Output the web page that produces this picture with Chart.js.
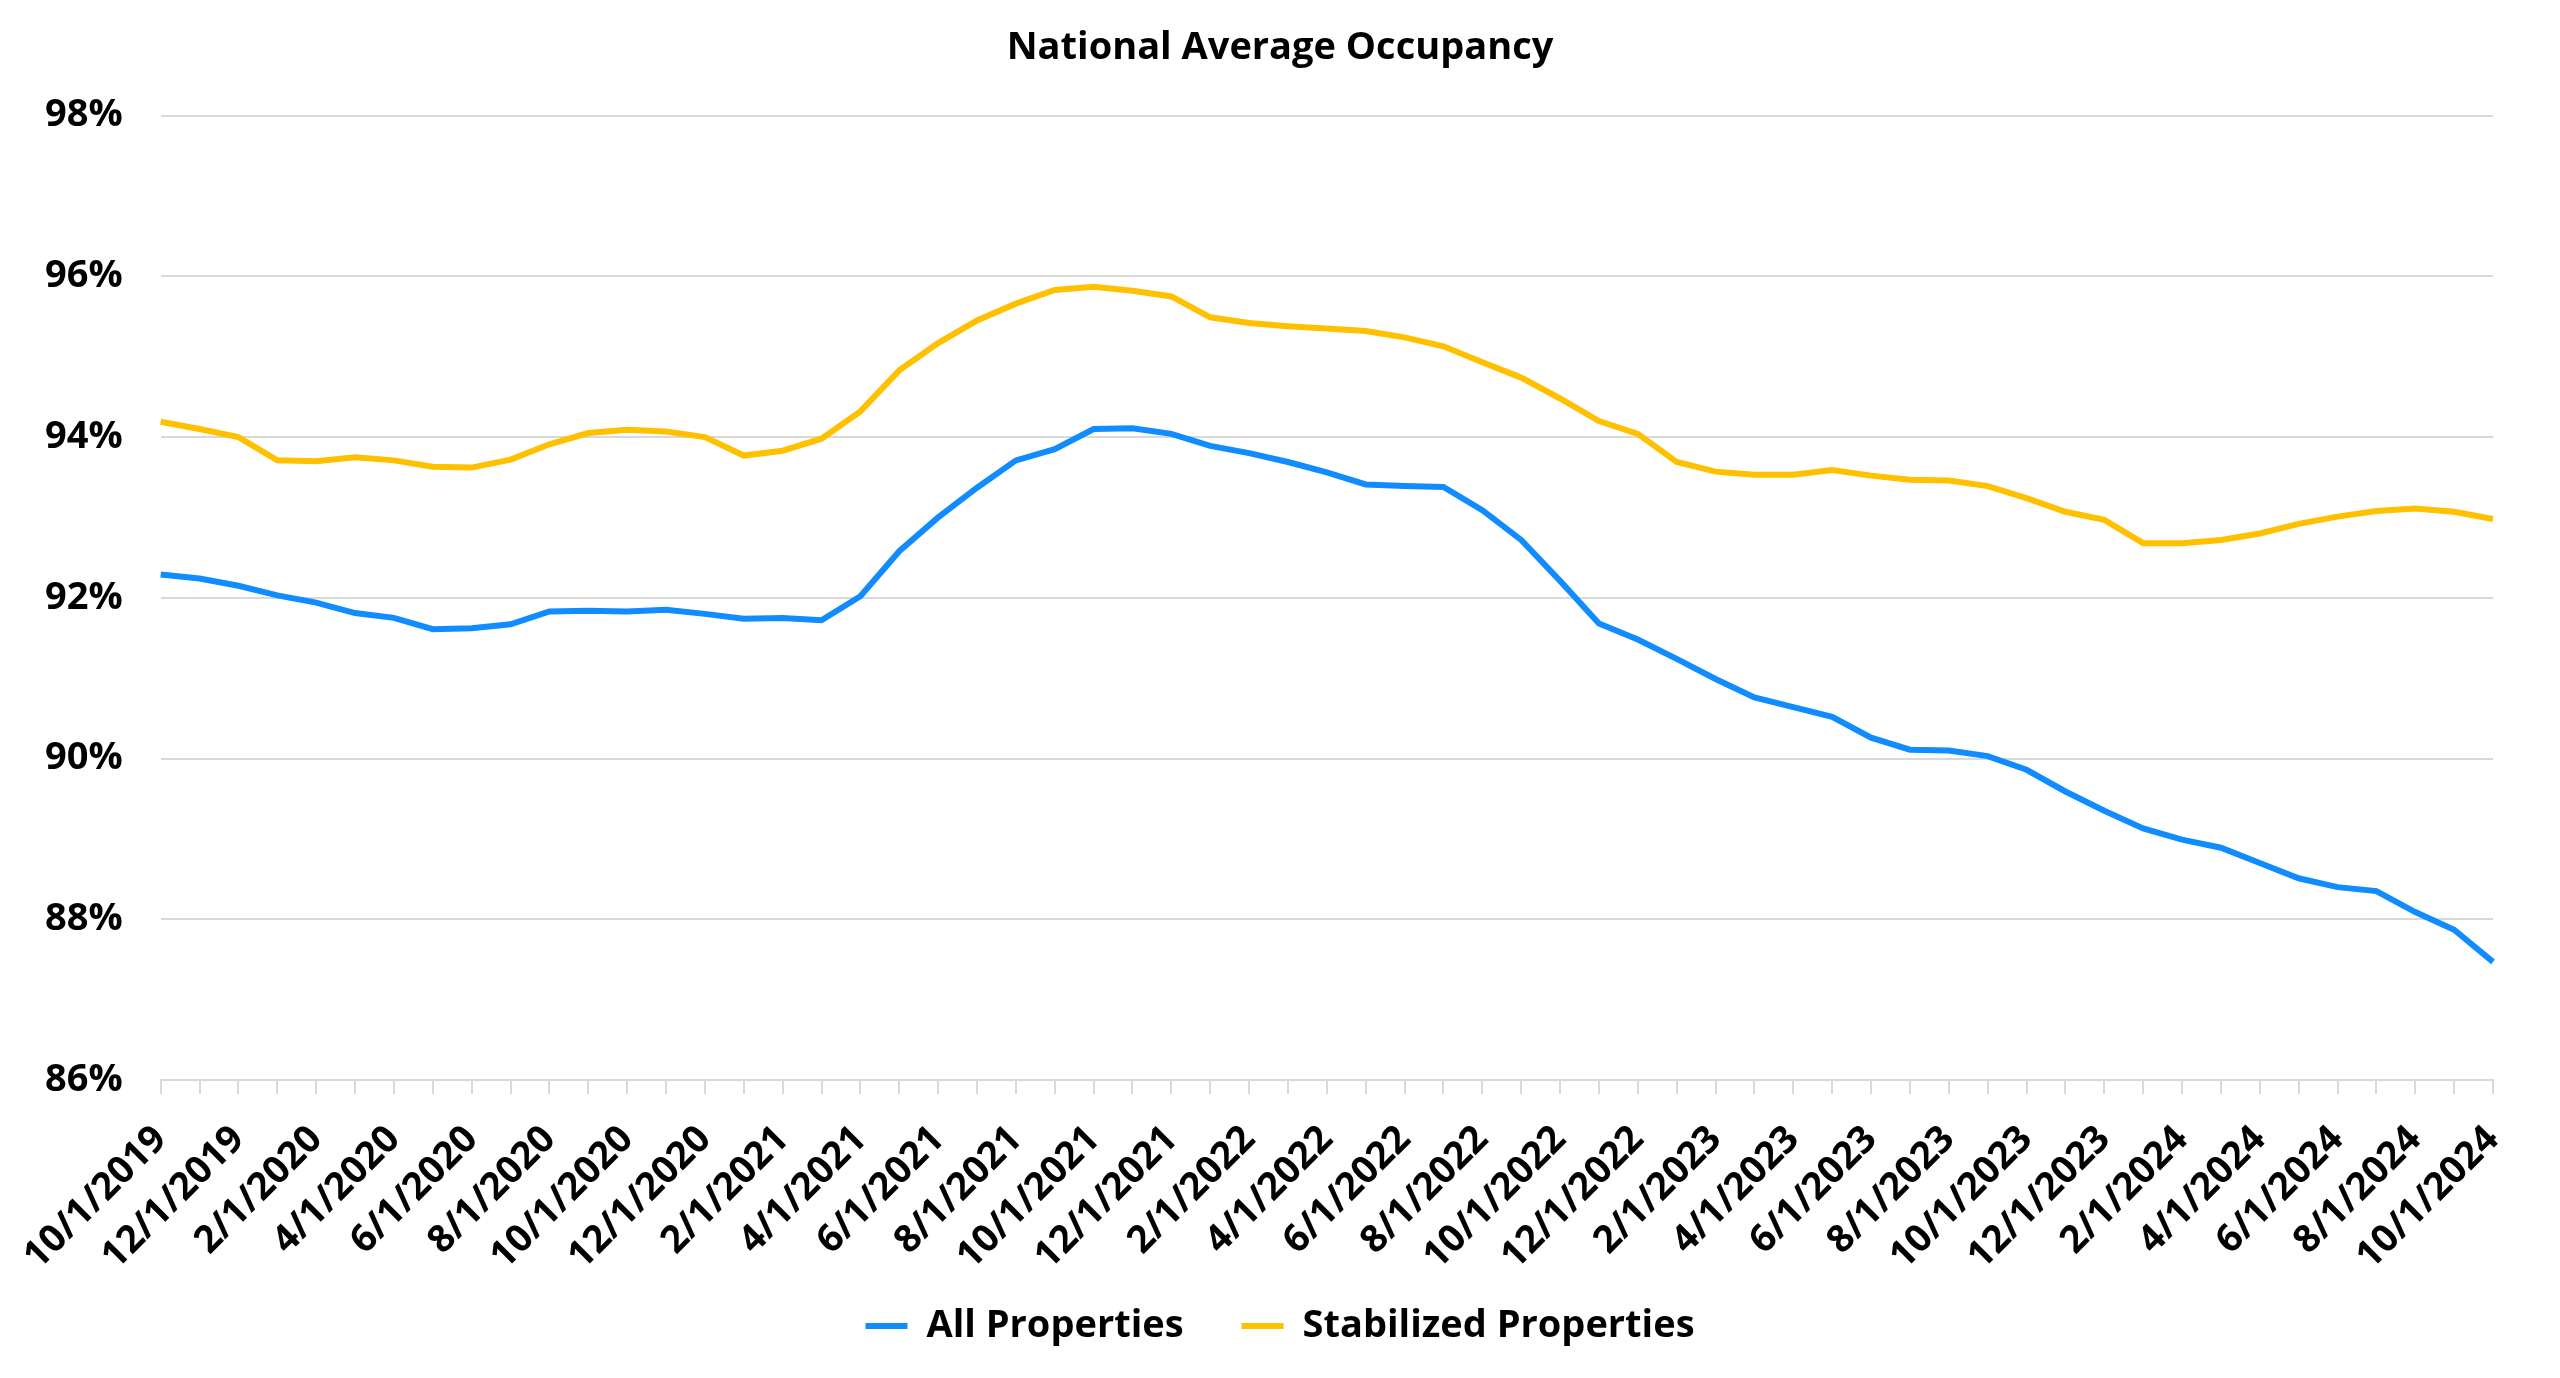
<!DOCTYPE html>
<html>
<head>
<meta charset="utf-8">
<title>National Average Occupancy</title>
<script src="https://cdn.jsdelivr.net/npm/chart.js@4.4.1/dist/chart.umd.min.js"></script>
<style>
	html, body { margin: 0; padding: 0; background: #fff; }
	#wrap { width: 2560px; height: 1378px; position: relative; }
</style>
</head>
<body>
<div id="wrap"><canvas id="occChart"></canvas></div>
<script>
// month labels, 10/1/2019 .. 10/1/2024
const months = [
	'10/1/2019', '11/1/2019', '12/1/2019',
	'1/1/2020', '2/1/2020', '3/1/2020', '4/1/2020', '5/1/2020', '6/1/2020',
	'7/1/2020', '8/1/2020', '9/1/2020', '10/1/2020', '11/1/2020', '12/1/2020',
	'1/1/2021', '2/1/2021', '3/1/2021', '4/1/2021', '5/1/2021', '6/1/2021',
	'7/1/2021', '8/1/2021', '9/1/2021', '10/1/2021', '11/1/2021', '12/1/2021',
	'1/1/2022', '2/1/2022', '3/1/2022', '4/1/2022', '5/1/2022', '6/1/2022',
	'7/1/2022', '8/1/2022', '9/1/2022', '10/1/2022', '11/1/2022', '12/1/2022',
	'1/1/2023', '2/1/2023', '3/1/2023', '4/1/2023', '5/1/2023', '6/1/2023',
	'7/1/2023', '8/1/2023', '9/1/2023', '10/1/2023', '11/1/2023', '12/1/2023',
	'1/1/2024', '2/1/2024', '3/1/2024', '4/1/2024', '5/1/2024', '6/1/2024',
	'7/1/2024', '8/1/2024', '9/1/2024', '10/1/2024'
];

// occupancy, percent
const allProperties = [
	92.29, 92.24, 92.15, 92.03, 91.94, 91.81, 91.75, 91.61, 91.62, 91.67,
	91.83, 91.84, 91.83, 91.85, 91.80, 91.74, 91.75, 91.72, 92.02, 92.58,
	93.00, 93.37, 93.71, 93.85, 94.10, 94.11, 94.04, 93.89, 93.80, 93.69,
	93.56, 93.41, 93.39, 93.38, 93.09, 92.72, 92.21, 91.68, 91.48, 91.24,
	90.99, 90.76, 90.64, 90.52, 90.26, 90.11, 90.10, 90.03, 89.86, 89.59,
	89.35, 89.13, 88.99, 88.89, 88.70, 88.51, 88.40, 88.35, 88.09, 87.87,
	87.47
];

const stabilizedProperties = [
	94.19, 94.10, 94.00, 93.71, 93.70, 93.75, 93.71, 93.63, 93.62, 93.72,
	93.91, 94.05, 94.09, 94.07, 94.00, 93.77, 93.83, 93.98, 94.32, 94.83,
	95.17, 95.45, 95.66, 95.83, 95.87, 95.82, 95.75, 95.49, 95.42, 95.38,
	95.35, 95.32, 95.24, 95.13, 94.93, 94.74, 94.48, 94.20, 94.04, 93.69,
	93.57, 93.53, 93.53, 93.59, 93.52, 93.47, 93.46, 93.39, 93.24, 93.07,
	92.97, 92.68, 92.68, 92.72, 92.80, 92.92, 93.01, 93.08, 93.11, 93.07,
	92.98
];

// y axis ticks
const yTicks = [86, 88, 90, 92, 94, 96, 98];

const gridGrey = '#d9d9d9';
const fontFam = '"Open Sans", "Liberation Sans", sans-serif';

Chart.defaults.font.family = fontFam;
Chart.defaults.font.weight = 'bold';
Chart.defaults.color = '#000';

// legend sits a bit higher than its layout box, close under the date labels
const legendLift = {
	id: 'legendLift',
	afterLayout(chart) {
		chart.legend.top -= 26;
		chart.legend.bottom -= 26;
	}
};

const ctx = document.getElementById('occChart').getContext('2d');
new Chart(ctx, {
	type: 'line',
	data: {
		labels: months,
		datasets: [{
			label: 'All Properties',
			data: allProperties,
			yAxisID: 'y',
			borderColor: '#118cff',
			backgroundColor: '#118cff',
			borderWidth: 6,
			pointRadius: 0,
			tension: 0,
			fill: false
		}, {
			label: 'Stabilized Properties',
			data: stabilizedProperties,
			yAxisID: 'y',
			borderColor: '#ffc000',
			backgroundColor: '#ffc000',
			borderWidth: 6,
			pointRadius: 0,
			tension: 0,
			fill: false
		}]
	},
	plugins: [legendLift],
	options: {
		responsive: true,
		maintainAspectRatio: false,
		animation: false,
		layout: {
			padding: { left: 7, right: 7, top: 0, bottom: 0 }
		},
		plugins: {
			title: {
				display: true,
				text: 'National Average Occupancy',
				font: { size: 38, weight: 'bold' },
				padding: { top: 25, bottom: 45 }
			},
			legend: {
				position: 'bottom',
				maxHeight: 103,
				labels: {
					font: { size: 38, weight: 'bold' },
					usePointStyle: true,
					pointStyle: 'line',
					pointStyleWidth: 42,
					padding: 58
				}
			},
			tooltip: { enabled: false }
		},
		scales: {
			y: {
				min: yTicks[0],
				max: yTicks[yTicks.length - 1],
				afterBuildTicks: (axis) => {
					axis.ticks = yTicks.map(v => ({ value: v }));
				},
				ticks: {
					padding: 38,
					font: { size: 38, weight: 'bold' },
					callback: (v) => v + '%'
				},
				grid: {
					color: gridGrey,
					lineWidth: 2,
					drawTicks: false
				},
				border: { display: false }
			},
			// empty right-hand axis, only reserves the margin right of the plot
			yRight: {
				type: 'linear',
				position: 'right',
				grid: { display: false },
				ticks: { display: false },
				border: { display: false },
				afterFit: (axis) => { axis.width = 60; }
			},
			x: {
				afterFit: (axis) => { axis.height = 195; },
				ticks: {
					autoSkip: false,
					minRotation: 45,
					maxRotation: 45,
					padding: 23,
					font: { size: 38, weight: 'bold' },
					callback: function (val, i) {
						return i % 2 === 0 ? this.getLabelForValue(val) : '';
					}
				},
				grid: {
					color: gridGrey,
					lineWidth: 2,
					drawOnChartArea: false,
					drawTicks: true,
					tickLength: 14
				},
				border: { display: true, color: gridGrey, width: 2 }
			}
		}
	}
});
</script>
</body>
</html>
